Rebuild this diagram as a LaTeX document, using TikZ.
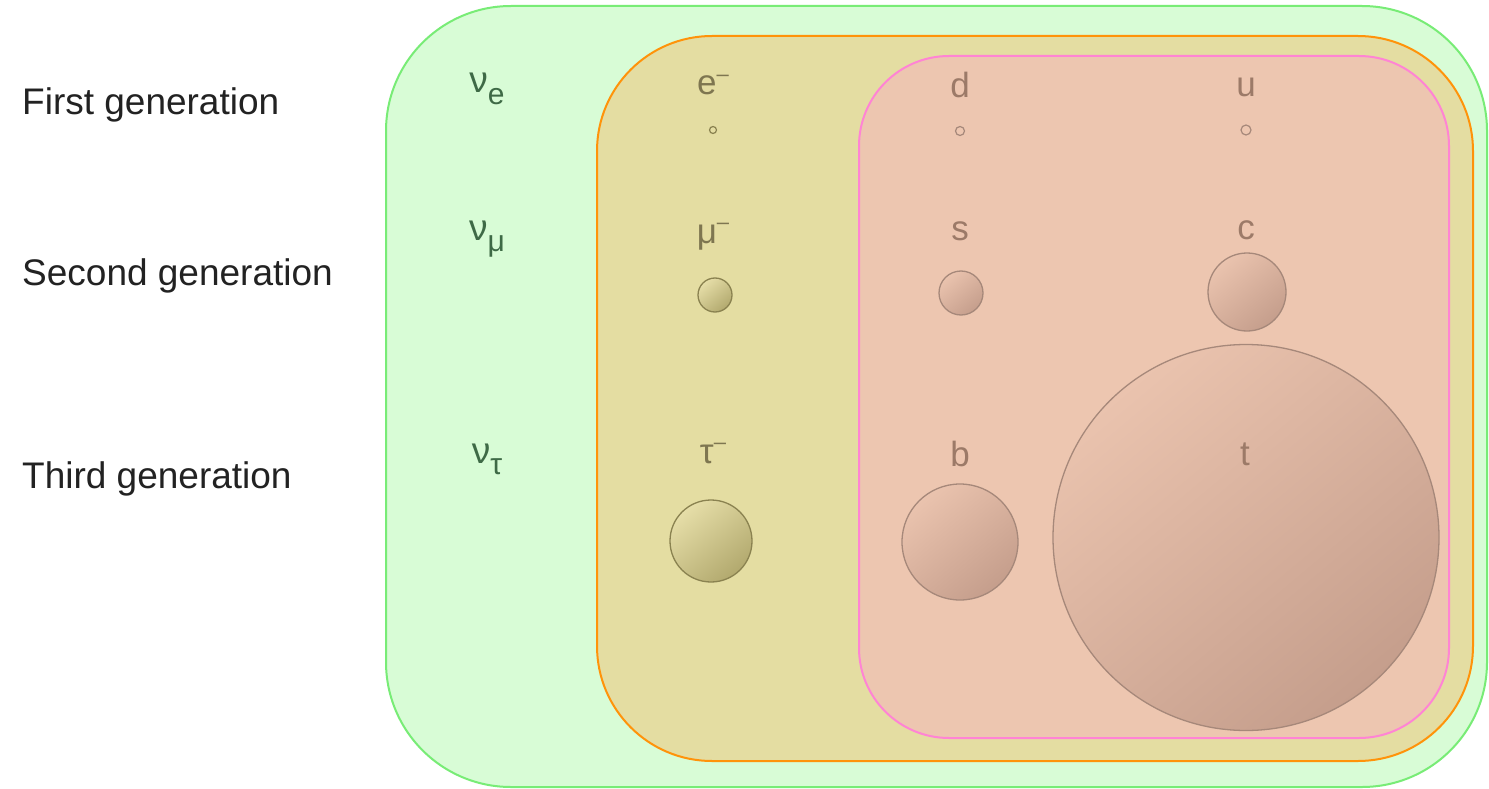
\documentclass[tikz,border=0pt]{standalone}
\usepackage{fontspec}
\setmainfont{Liberation Sans}
\definecolor{gfill}{HTML}{D8FCD6}
\definecolor{gedge}{HTML}{78EC76}
\definecolor{ofill}{HTML}{E4DDA2}
\definecolor{oedge}{HTML}{FF930A}
\definecolor{pfill}{HTML}{EDC6B0}
\definecolor{pedge}{HTML}{FF84D4}
\definecolor{nutext}{HTML}{3E6A46}
\definecolor{leptext}{HTML}{7E7650}
\definecolor{qtext}{HTML}{9C7A68}
\definecolor{lepA}{HTML}{E6DEA8}
\definecolor{lepB}{HTML}{B2A96E}
\definecolor{lepedge}{HTML}{8A8250}
\definecolor{qA}{HTML}{EAC3AE}
\definecolor{qB}{HTML}{C59E8C}
\definecolor{qedge}{HTML}{A6887A}
\definecolor{gentext}{HTML}{222222}
\newcommand{\fsz}[1]{\fontsize{#1}{#1}\selectfont}
\newcommand{\supminus}{\raisebox{0.75ex}{\fsz{22}\char"2013}}
\tikzset{
  genbox/.style={rectangle, line width=2pt, inner sep=0pt},
  gentxt/.style={anchor=base west, inner sep=0pt, text=gentext, font=\fsz{37}},
  nutxt/.style={anchor=base, inner sep=0pt, text=nutext, font=\fsz{37}},
  leptxt/.style={anchor=base, inner sep=0pt, text=leptext, font=\fsz{35}},
  qtxt/.style={anchor=base, inner sep=0pt, text=qtext, font=\fsz{35}},
  lepball/.style={circle, inner sep=0pt, draw=lepedge, line width=1.3pt, top color=lepA, bottom color=lepB, shading angle=40},
  qball/.style={circle, inner sep=0pt, draw=qedge, line width=1.3pt, top color=qA, bottom color=qB, shading angle=40},
  tiny/.style={circle, inner sep=0pt, line width=1.2pt, fill=none}
}
\begin{document}
\begin{tikzpicture}[x=1pt,y=-1pt]
\useasboundingbox[fill=white] (0,0) rectangle (1489,789);
% boxes
\node[genbox, draw=gedge, fill=gfill, rounded corners=125pt, minimum width=1101pt, minimum height=781pt] (green) at (936.5,396.5) {};
\node[genbox, draw=oedge, fill=ofill, rounded corners=115pt, minimum width=876pt, minimum height=725pt] (orange) at (1035,398.5) {};
\node[genbox, draw=pedge, fill=pfill, rounded corners=90pt, minimum width=590pt, minimum height=682pt] (pink) at (1154,397) {};
% generation labels
\node[gentxt] (g1) at (22,115) {First generation};
\node[gentxt] (g2) at (22,285) {Second generation};
\node[gentxt] (g3) at (22,488) {Third generation};
% neutrinos
\node[nutxt] (nue) at (487,93) {ν\raisebox{-0.32em}{\fsz{30}e}};
\node[nutxt] (num) at (487,240) {ν\raisebox{-0.3em}{\fsz{30}μ}};
\node[nutxt] (nut) at (487,463) {ν\raisebox{-0.3em}{\fsz{30}τ}};
% charged leptons
\node[leptxt] (el) at (713,95) {e\supminus};
\node[leptxt] (mu) at (713,243) {μ\supminus};
\node[leptxt] (tau) at (713,463) {τ\supminus};
\node[tiny, draw=lepedge, minimum size=7pt] (elb) at (713,130) {};
\node[lepball, minimum size=34pt] (mub) at (715,295) {};
\node[lepball, minimum size=82pt] (taub) at (711,541) {};
% quarks
\node[qtxt] (d) at (960,98) {d};
\node[qtxt] (u) at (1246,97) {u};
\node[qtxt] (s) at (960,240) {s};
\node[qtxt] (c) at (1246,239) {c};
\node[tiny, draw=qedge, minimum size=9pt] (db) at (960,131) {};
\node[tiny, draw=qedge, minimum size=10pt] (ub) at (1246,130) {};
\node[qball, minimum size=44pt] (sb) at (961,293) {};
\node[qball, minimum size=78pt] (cb) at (1247,292) {};
\node[qball, minimum size=116pt] (bb) at (960,542) {};
\node[qball, minimum size=386pt] (tb) at (1246,537.5) {};
\node[qtxt] (b) at (960,466) {b};
\node[qtxt] (t) at (1245,465) {t};
\end{tikzpicture}
\end{document}
